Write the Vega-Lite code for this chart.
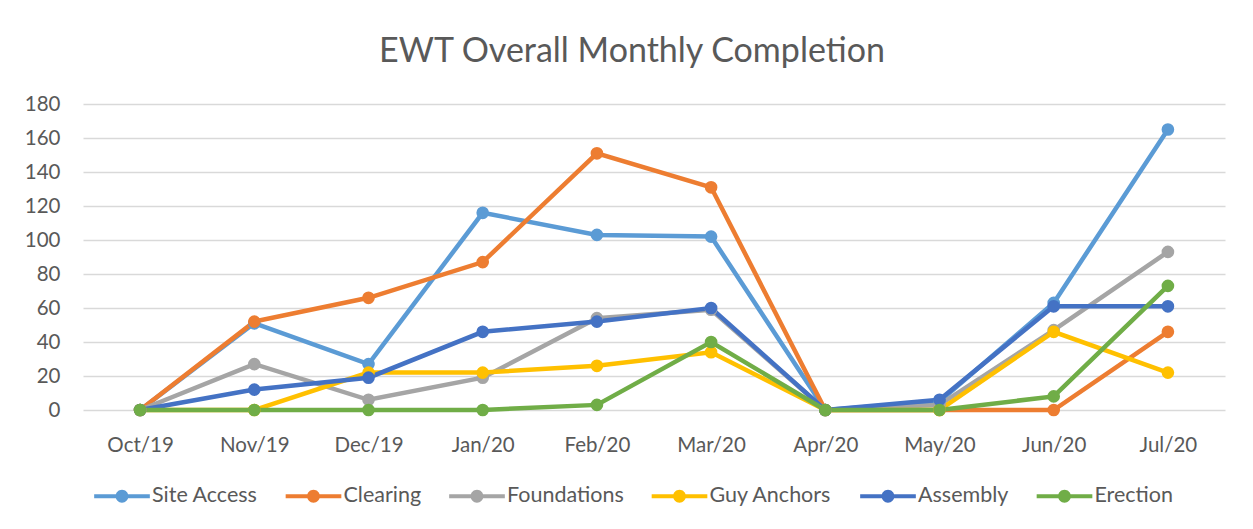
{
  "$schema": "https://vega.github.io/schema/vega-lite/v6.json",
  "width": 1142,
  "height": 306,
  "autosize": {"type": "none"},
  "padding": {"left": 83, "top": 104, "right": 28, "bottom": 119},
  "background": "white",
  "title": {
    "text": "EWT Overall Monthly Completion",
    "font": "Lato",
    "fontSize": 34,
    "fontWeight": "normal",
    "color": "#595959",
    "anchor": "middle",
    "offset": 25,
    "dx": -22
  },
  "config": {
    "view": {"stroke": null},
    "font": "Lato",
    "axis": {"labelFont": "Lato", "labelColor": "#595959", "labelFontSize": 20.5, "labelOverlap": false}
  },
  "data": {
    "values": [
      {"month": "Oct/19", "series": "Site Access", "value": 0},
      {"month": "Nov/19", "series": "Site Access", "value": 51},
      {"month": "Dec/19", "series": "Site Access", "value": 27},
      {"month": "Jan/20", "series": "Site Access", "value": 116},
      {"month": "Feb/20", "series": "Site Access", "value": 103},
      {"month": "Mar/20", "series": "Site Access", "value": 102},
      {"month": "Apr/20", "series": "Site Access", "value": 0},
      {"month": "May/20", "series": "Site Access", "value": 5},
      {"month": "Jun/20", "series": "Site Access", "value": 63},
      {"month": "Jul/20", "series": "Site Access", "value": 165},
      {"month": "Oct/19", "series": "Clearing", "value": 0},
      {"month": "Nov/19", "series": "Clearing", "value": 52},
      {"month": "Dec/19", "series": "Clearing", "value": 66},
      {"month": "Jan/20", "series": "Clearing", "value": 87},
      {"month": "Feb/20", "series": "Clearing", "value": 151},
      {"month": "Mar/20", "series": "Clearing", "value": 131},
      {"month": "Apr/20", "series": "Clearing", "value": 0},
      {"month": "May/20", "series": "Clearing", "value": 0},
      {"month": "Jun/20", "series": "Clearing", "value": 0},
      {"month": "Jul/20", "series": "Clearing", "value": 46},
      {"month": "Oct/19", "series": "Foundations", "value": 0},
      {"month": "Nov/19", "series": "Foundations", "value": 27},
      {"month": "Dec/19", "series": "Foundations", "value": 6},
      {"month": "Jan/20", "series": "Foundations", "value": 19},
      {"month": "Feb/20", "series": "Foundations", "value": 54},
      {"month": "Mar/20", "series": "Foundations", "value": 59},
      {"month": "Apr/20", "series": "Foundations", "value": 0},
      {"month": "May/20", "series": "Foundations", "value": 3},
      {"month": "Jun/20", "series": "Foundations", "value": 47},
      {"month": "Jul/20", "series": "Foundations", "value": 93},
      {"month": "Oct/19", "series": "Guy Anchors", "value": 0},
      {"month": "Nov/19", "series": "Guy Anchors", "value": 0},
      {"month": "Dec/19", "series": "Guy Anchors", "value": 22},
      {"month": "Jan/20", "series": "Guy Anchors", "value": 22},
      {"month": "Feb/20", "series": "Guy Anchors", "value": 26},
      {"month": "Mar/20", "series": "Guy Anchors", "value": 34},
      {"month": "Apr/20", "series": "Guy Anchors", "value": 0},
      {"month": "May/20", "series": "Guy Anchors", "value": 0},
      {"month": "Jun/20", "series": "Guy Anchors", "value": 46},
      {"month": "Jul/20", "series": "Guy Anchors", "value": 22},
      {"month": "Oct/19", "series": "Assembly", "value": 0},
      {"month": "Nov/19", "series": "Assembly", "value": 12},
      {"month": "Dec/19", "series": "Assembly", "value": 19},
      {"month": "Jan/20", "series": "Assembly", "value": 46},
      {"month": "Feb/20", "series": "Assembly", "value": 52},
      {"month": "Mar/20", "series": "Assembly", "value": 60},
      {"month": "Apr/20", "series": "Assembly", "value": 0},
      {"month": "May/20", "series": "Assembly", "value": 6},
      {"month": "Jun/20", "series": "Assembly", "value": 61},
      {"month": "Jul/20", "series": "Assembly", "value": 61},
      {"month": "Oct/19", "series": "Erection", "value": 0},
      {"month": "Nov/19", "series": "Erection", "value": 0},
      {"month": "Dec/19", "series": "Erection", "value": 0},
      {"month": "Jan/20", "series": "Erection", "value": 0},
      {"month": "Feb/20", "series": "Erection", "value": 3},
      {"month": "Mar/20", "series": "Erection", "value": 40},
      {"month": "Apr/20", "series": "Erection", "value": 0},
      {"month": "May/20", "series": "Erection", "value": 0},
      {"month": "Jun/20", "series": "Erection", "value": 8},
      {"month": "Jul/20", "series": "Erection", "value": 73}
    ]
  },
  "encoding": {
    "x": {
      "field": "month",
      "type": "ordinal",
      "sort": null,
      "scale": {"type": "point", "padding": 0.5},
      "axis": {"title": null, "domain": false, "ticks": false, "labelAngle": 0, "labelPadding": 25, "grid": false}
    },
    "y": {
      "field": "value",
      "type": "quantitative",
      "scale": {"domain": [0, 180]},
      "axis": {"title": null, "domain": false, "ticks": false, "values": [0,20,40,60,80,100,120,140,160,180], "labelPadding": 23, "grid": true, "gridColor": "#D9D9D9", "gridWidth": 1.5}
    },
    "color": {
      "field": "series",
      "type": "nominal",
      "sort": ["Site Access", "Clearing", "Foundations", "Guy Anchors", "Assembly", "Erection"],
      "scale": {
        "domain": ["Site Access", "Clearing", "Foundations", "Guy Anchors", "Assembly", "Erection"],
        "range": ["#5B9BD5", "#ED7D31", "#A5A5A5", "#FFC000", "#4472C4", "#70AD47"]
      },
      "legend": {
        "title": null,
        "orient": "none",
        "legendX": 11,
        "legendY": 364,
        "direction": "horizontal",
        "symbolType": "M -1 -0.075 H -0.2 V 0.075 H -1 Z M 0.2 -0.075 H 1 V 0.075 H 0.2 Z M -0.23 0 A 0.23 0.23 0 1 1 0.23 0 A 0.23 0.23 0 1 1 -0.23 0 Z",
        "symbolSize": 3100,
        "symbolStrokeWidth": 0,
        "labelFont": "Lato",
        "labelFontSize": 21.5,
        "labelColor": "#595959",
        "labelOffset": 2,
        "columnPadding": 27.5,
        "labelLimit": 300
      }
    }
  },
  "layer": [
    {"mark": {"type": "line", "strokeWidth": 4.5}},
    {"mark": {"type": "circle", "size": 160, "opacity": 1}}
  ]
}
